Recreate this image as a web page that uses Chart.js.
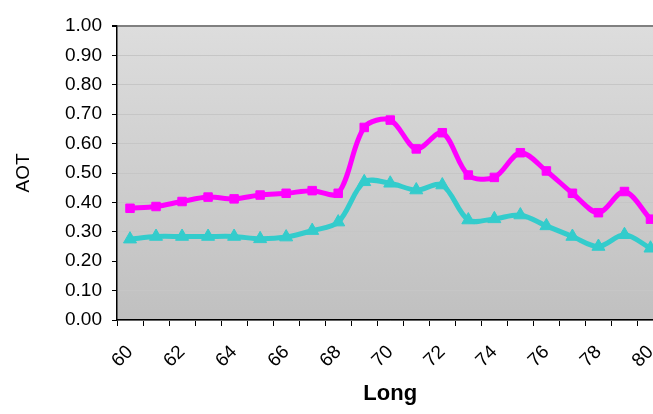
<!DOCTYPE html>
<html>
<head>
<meta charset="utf-8">
<script src="https://cdn.jsdelivr.net/npm/chart.js@4"></script>
<style>
  html, body { margin: 0; padding: 0; background: #ffffff; overflow: hidden; }
  #wrap { position: relative; width: 672px; height: 414px; }
</style>
</head>
<body>
<div id="wrap"><canvas id="c"></canvas></div>
<script>
// Longitude categories (degrees east)
const longitudes = ['60','61','62','63','64','65','66','67','68','69','70',
                    '71','72','73','74','75','76','77','78','79','80'];

// Aerosol optical thickness along the transect
const aotUpper = [0.380, 0.386, 0.403, 0.418, 0.412, 0.425, 0.431, 0.440, 0.431, 0.655, 0.680,
                  0.582, 0.637, 0.493, 0.485, 0.569, 0.507, 0.431, 0.365, 0.437, 0.343];
const aotLower = [0.275, 0.284, 0.284, 0.284, 0.284, 0.276, 0.282, 0.304, 0.333, 0.470, 0.465,
                  0.442, 0.459, 0.340, 0.344, 0.357, 0.320, 0.284, 0.250, 0.290, 0.244];

// Y axis range
const yMin = 0, yMax = 1, yStep = 0.1;

const FONT = "'Liberation Sans', Arial, sans-serif";

// Grey gradient behind the plot area
const plotBackground = {
  id: 'plotBackground',
  beforeDraw(chart) {
    const { ctx, chartArea: a } = chart;
    const g = ctx.createLinearGradient(0, a.top, 0, a.bottom);
    g.addColorStop(0, '#dddddd');
    g.addColorStop(1, '#c0c0c0');
    ctx.save();
    ctx.fillStyle = g;
    ctx.fillRect(a.left, a.top, a.right - a.left, a.bottom - a.top);
    ctx.restore();
  }
};

new Chart(document.getElementById('c'), {
  type: 'line',
  data: {
    labels: longitudes,
    datasets: [
      {
        data: aotUpper,
        borderColor: '#ff00ff',
        backgroundColor: '#ff00ff',
        borderWidth: 5,
        tension: 0.32,
        pointStyle: 'rect',
        pointRadius: 6,
        pointBorderWidth: 1,
        pointBorderColor: '#ff00ff',
        pointBackgroundColor: '#ff00ff'
      },
      {
        data: aotLower,
        borderColor: '#33cccc',
        backgroundColor: '#33cccc',
        borderWidth: 5,
        tension: 0.32,
        pointStyle: 'triangle',
        pointRadius: 7.5,
        pointBorderWidth: 1,
        pointBorderColor: '#33cccc',
        pointBackgroundColor: '#33cccc'
      }
    ]
  },
  options: {
    responsive: true,
    maintainAspectRatio: false,
    animation: false,
    devicePixelRatio: 1,
    layout: { padding: { top: 26, right: 2, left: 0, bottom: 0 } },
    plugins: {
      legend: { display: false },
      tooltip: { enabled: false }
    },
    scales: {
      x: {
        type: 'category',
        offset: true,
        grid: {
          offset: true,
          drawOnChartArea: false,
          drawTicks: true,
          tickLength: 6,
          tickColor: '#000000',
          tickWidth: 1
        },
        border: { display: true, color: '#000000', width: 1.5 },
        ticks: {
          autoSkip: false,
          minRotation: 45,
          maxRotation: 45,
          padding: 15,
          color: '#000000',
          font: { family: FONT, size: 19 },
          callback(value, index) {
            return index % 2 === 0 ? this.getLabelForValue(value) : '';
          }
        },
        title: {
          display: true,
          text: 'Long',
          color: '#000000',
          font: { family: FONT, size: 22, weight: 'bold' },
          padding: { top: 0, bottom: 7 }
        },
        afterFit(scale) {
          scale.height = 94;
          scale.paddingLeft = 0;
          scale.paddingRight = 0;
        }
      },
      y: {
        min: yMin,
        max: yMax,
        grid: {
          color(ctx) { return ctx.index === 10 ? '#808080' : '#c6c6c6'; },
          lineWidth(ctx) { return ctx.index === 10 ? 2 : 1; },
          drawTicks: true,
          tickLength: 5,
          tickColor: '#000000'
        },
        border: { display: true, color: '#000000', width: 1.5 },
        ticks: {
          stepSize: yStep,
          padding: 10,
          color: '#000000',
          font: { family: FONT, size: 19 },
          callback(v) { return v.toFixed(2); }
        },
        title: {
          display: true,
          text: 'AOT',
          color: '#000000',
          font: { family: FONT, size: 19 },
          padding: { top: 12, bottom: 0 }
        },
        afterFit(scale) { scale.width = 117; }
      }
    }
  },
  plugins: [plotBackground]
});
</script>
</body>
</html>
